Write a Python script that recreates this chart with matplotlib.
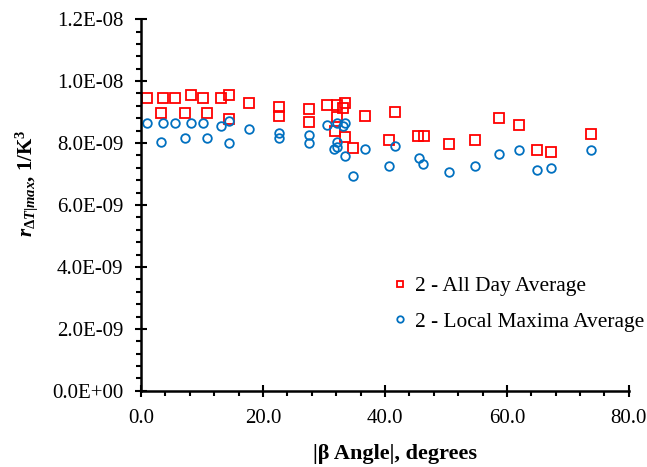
import matplotlib
matplotlib.use("Agg")
import matplotlib.pyplot as plt
from matplotlib.ticker import MultipleLocator, FuncFormatter

plt.rcParams['font.family'] = ['Liberation Serif', 'DejaVu Serif']
plt.rcParams['mathtext.fontset'] = 'custom'
plt.rcParams['mathtext.rm'] = 'Liberation Serif:bold'
plt.rcParams['mathtext.it'] = 'Liberation Serif:italic:bold'
plt.rcParams['mathtext.bf'] = 'Liberation Serif:bold'

# 2 - All Day Average
day_x = [0.93, 3.56, 5.57, 8.15, 10.11, 13.07, 14.38, 3.23, 7.16, 10.82, 14.38,
         17.70, 22.62, 22.62, 27.54, 27.54, 30.44, 32.08, 33.44, 33.16, 32.08,
         31.80, 33.44, 34.70, 36.72, 40.66, 41.64, 45.41, 46.39, 50.44, 54.75,
         58.69, 61.97, 64.87, 67.16, 73.72]
day_y = [9.47, 9.47, 9.47, 9.54, 9.47, 9.47, 9.55, 8.96, 8.96, 8.96, 8.77,
         9.28, 9.15, 8.88, 9.09, 8.69, 9.22, 9.22, 9.28, 9.13, 8.85,
         8.40, 8.18, 7.83, 8.88, 8.10, 9.01, 8.23, 8.23, 7.98, 8.10,
         8.82, 8.57, 7.77, 7.72, 8.30]

# 2 - Local Maxima Average
max_x = [0.93, 3.56, 5.57, 8.15, 10.11, 13.07, 14.38, 3.23, 7.16, 10.82, 14.38,
         17.70, 22.62, 22.62, 27.54, 27.54, 30.44, 32.08, 33.44, 33.16, 32.08,
         32.08, 31.69, 33.44, 34.70, 36.72, 40.66, 41.64, 45.57, 46.23, 50.44,
         54.75, 58.69, 61.97, 64.87, 67.16, 73.72]
max_y = [8.64, 8.64, 8.64, 8.64, 8.64, 8.56, 8.72, 8.04, 8.17, 8.17, 7.99,
         8.44, 8.31, 8.17, 8.25, 7.99, 8.58, 8.64, 8.64, 8.55, 8.04,
         7.86, 7.80, 7.58, 6.94, 7.80, 7.26, 7.91, 7.52, 7.32, 7.06,
         7.26, 7.65, 7.77, 7.14, 7.19, 7.77]

day_y = [v * 1e-9 for v in day_y]
max_y = [v * 1e-9 for v in max_y]

fig = plt.figure(figsize=(6.47, 4.67), dpi=100)
ax = fig.add_axes([0.218, 0.163, 0.754, 0.796])

ax.plot(day_x, day_y, 's', ms=6.5, mfc='none', mec='#FF0000', mew=1.3,
        label='2 - All Day Average')
ax.plot(max_x, max_y, 'o', ms=6.2, mfc='none', mec='#0070C0', mew=1.3,
        label='2 - Local Maxima Average')

ax.set_xlim(0, 80)
ax.set_ylim(0, 1.2e-8)
ax.xaxis.set_major_locator(MultipleLocator(20))
ax.xaxis.set_minor_locator(MultipleLocator(4))
ax.yaxis.set_major_locator(MultipleLocator(2e-9))
ax.yaxis.set_minor_locator(MultipleLocator(4e-10))
ax.xaxis.set_major_formatter(FuncFormatter(lambda v, p: '%.1f' % v))
ax.yaxis.set_major_formatter(FuncFormatter(lambda v, p: '{:.1E}'.format(v)))

for s in ['top', 'right']:
    ax.spines[s].set_visible(False)
for s in ['left', 'bottom']:
    ax.spines[s].set_linewidth(1.8)

ax.tick_params(which='major', direction='inout', length=8.5, width=1.5,
               labelsize=15, pad=8.5)
ax.tick_params(which='minor', direction='out', length=3.6, width=1.5)

ax.set_xlabel('|β Angle|, degrees', fontsize=16, fontweight='bold', labelpad=12)
ax.set_ylabel(r'$r_{\Delta T|max}$, 1/K$^3$', fontsize=15, fontweight='bold',
              labelpad=9)
ax.xaxis.label.set_x(0.52)
ax.yaxis.label.set_y(0.56)

ax.legend(loc='upper left', bbox_to_anchor=(0.478, 0.36), frameon=False,
          fontsize=15.4, markerscale=0.75, handlelength=0.6, handletextpad=0.4,
          labelspacing=0.72)

fig.savefig('out.png', dpi=100)
